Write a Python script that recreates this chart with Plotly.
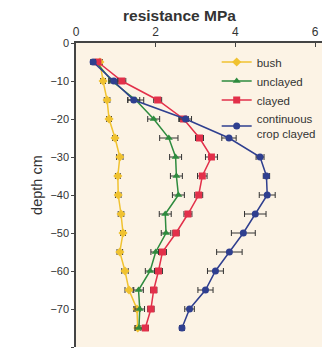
import plotly.graph_objects as go

depth = [-5, -10, -15, -20, -25, -30, -35, -40, -45, -50, -55, -60, -65, -70, -75]

bush = [0.60, 0.68, 0.78, 0.83, 0.98, 1.10, 1.05, 1.06, 1.13, 1.18, 1.10, 1.23, 1.33, 1.53, 1.55]
bush_err = [0.06, 0.06, 0.07, 0.06, 0.06, 0.08, 0.06, 0.07, 0.07, 0.06, 0.07, 0.08, 0.1, 0.08, 0.06]

unclayed = [0.50, 0.90, 1.50, 1.95, 2.33, 2.50, 2.52, 2.57, 2.24, 2.26, 2.00, 1.86, 1.57, 1.60, 1.58]
unclayed_err = [0.05, 0.08, 0.2, 0.15, 0.23, 0.15, 0.15, 0.15, 0.15, 0.12, 0.12, 0.12, 0.12, 0.12, 0.1]

clayed = [0.55, 1.15, 2.05, 2.70, 3.10, 3.40, 3.17, 3.08, 2.81, 2.51, 2.17, 2.07, 1.95, 1.88, 1.74]
clayed_err = [0.05, 0.1, 0.1, 0.12, 0.1, 0.15, 0.12, 0.1, 0.1, 0.08, 0.1, 0.1, 0.08, 0.08, 0.08]

crop = [0.43, 0.95, 1.45, 2.75, 3.84, 4.62, 4.78, 4.80, 4.50, 4.20, 3.85, 3.50, 3.25, 2.85, 2.66]
crop_err = [0.06, 0.1, 0.15, 0.15, 0.18, 0.1, 0.08, 0.2, 0.27, 0.3, 0.32, 0.2, 0.19, 0.12, 0.06]

series = [
    ("bush", bush, bush_err, "#f0c230", "diamond"),
    ("unclayed", unclayed, unclayed_err, "#2e8b3e", "triangle-up"),
    ("clayed", clayed, clayed_err, "#e2304a", "square"),
    ("continuous<br>crop clayed", crop, crop_err, "#2f3f8f", "circle"),
]

fig = go.Figure()
for name, xs, err, col, sym in series:
    fig.add_trace(go.Scatter(
        x=xs, y=depth, name=name, mode="lines+markers",
        line=dict(color=col, width=1.5),
        marker=dict(color=col, symbol=sym, size=7),
        error_x=dict(type="data", array=err, visible=True, color="#333333", thickness=1, width=3),
    ))

fig.update_layout(
    width=322, height=342,
    margin=dict(l=68, r=5, t=35, b=3, autoexpand=False),
    paper_bgcolor="white",
    plot_bgcolor="#fcf3e5",
    font=dict(family="Liberation Sans, Arial, sans-serif", size=12, color="#333333"),
    showlegend=True,
    legend=dict(x=0.565, y=0.985, xanchor="left", yanchor="top", bgcolor="rgba(0,0,0,0)",
                font=dict(size=11.5, color="#333333"), tracegroupgap=0, itemwidth=30),
    annotations=[
        dict(text="<b>resistance MPa</b>", xref="paper", yref="paper", x=0.414, y=1.092,
             xanchor="center", yanchor="middle", showarrow=False, font=dict(size=15.5, color="#333333")),
        dict(text="depth cm", xref="paper", yref="paper", x=-0.157, y=0.533, textangle=-90,
             xanchor="center", yanchor="middle", showarrow=False, font=dict(size=14.5, color="#333333")),
    ],
)
fig.update_xaxes(
    side="top", range=[0, 6.25], tickvals=[0, 2, 4, 6], ticks="inside", ticklen=4,
    showline=True, linecolor="#444444", linewidth=1.5, showgrid=False, zeroline=False,
    tickfont=dict(size=12),
)
fig.update_yaxes(
    range=[-80, 0], tickvals=[0, -10, -20, -30, -40, -50, -60, -70, -80], ticks="outside", ticklen=3,
    showline=True, linecolor="#444444", linewidth=1.5, showgrid=False, zeroline=False,
    tickfont=dict(size=11),
)

fig.write_html("out.html")
